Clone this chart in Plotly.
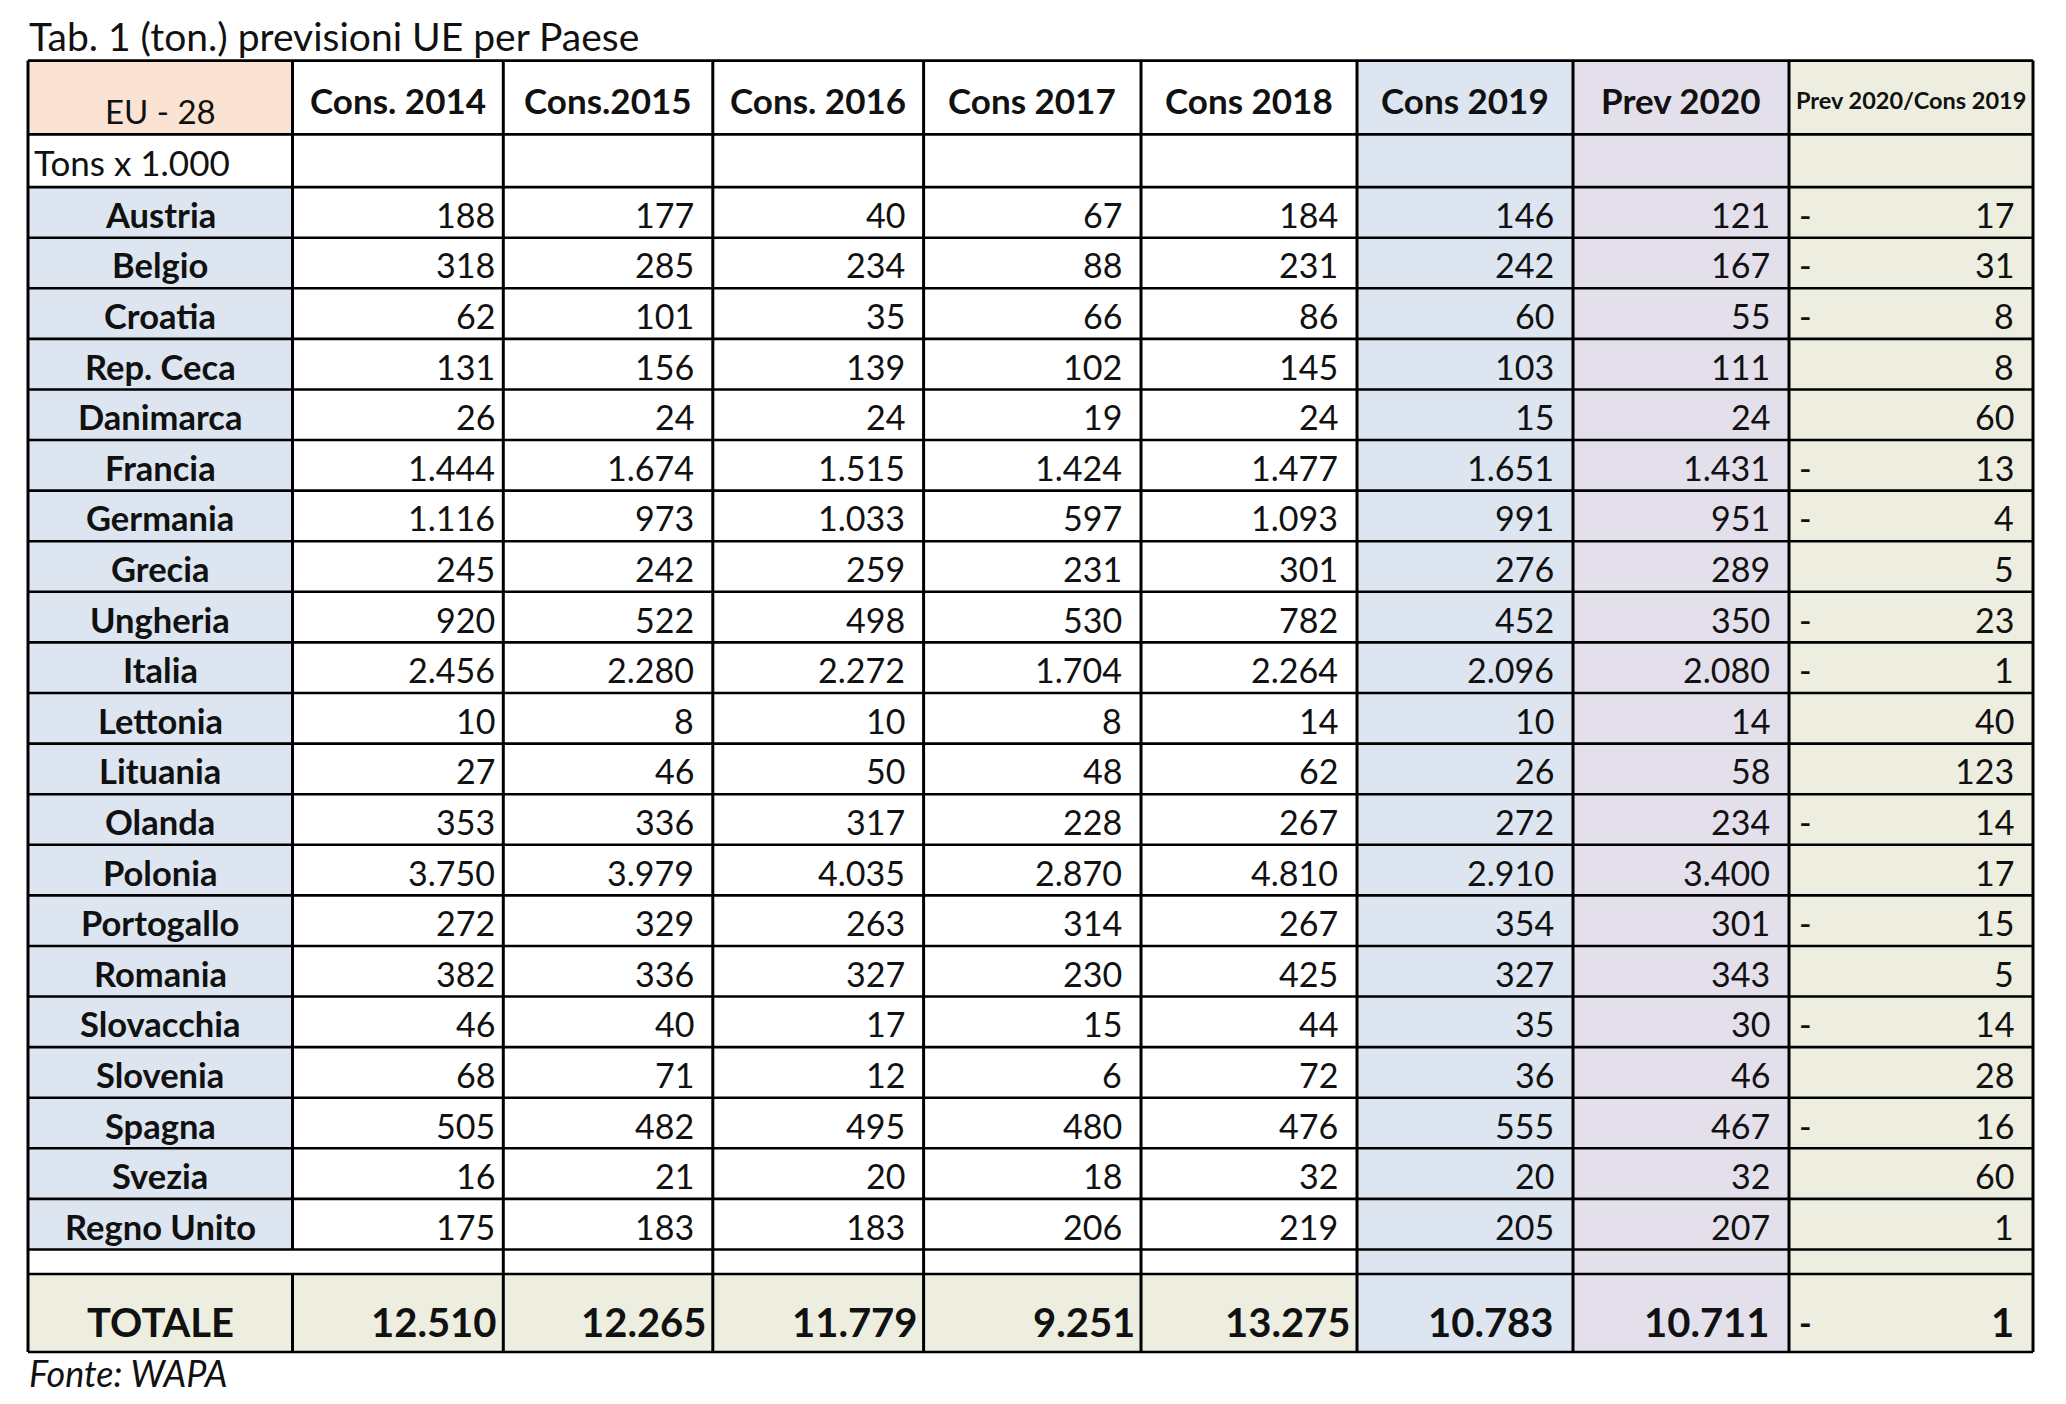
import plotly.graph_objects as go

# ---------------- data ----------------
title = "Tab. 1 (ton.) previsioni UE per Paese"
source = "Fonte: WAPA"
corner_label = "EU - 28"
unit_label = "Tons x 1.000"
headers = ["Cons. 2014", "Cons.2015", "Cons. 2016", "Cons 2017", "Cons 2018",
           "Cons 2019", "Prev 2020", "Prev 2020/Cons 2019"]
countries = ["Austria", "Belgio", "Croatia", "Rep. Ceca", "Danimarca", "Francia",
             "Germania", "Grecia", "Ungheria", "Italia", "Lettonia", "Lituania",
             "Olanda", "Polonia", "Portogallo", "Romania", "Slovacchia", "Slovenia",
             "Spagna", "Svezia", "Regno Unito"]
cons2014 = [188, 318, 62, 131, 26, 1444, 1116, 245, 920, 2456, 10, 27, 353, 3750, 272, 382, 46, 68, 505, 16, 175]
cons2015 = [177, 285, 101, 156, 24, 1674, 973, 242, 522, 2280, 8, 46, 336, 3979, 329, 336, 40, 71, 482, 21, 183]
cons2016 = [40, 234, 35, 139, 24, 1515, 1033, 259, 498, 2272, 10, 50, 317, 4035, 263, 327, 17, 12, 495, 20, 183]
cons2017 = [67, 88, 66, 102, 19, 1424, 597, 231, 530, 1704, 8, 48, 228, 2870, 314, 230, 15, 6, 480, 18, 206]
cons2018 = [184, 231, 86, 145, 24, 1477, 1093, 301, 782, 2264, 14, 62, 267, 4810, 267, 425, 44, 72, 476, 32, 219]
cons2019 = [146, 242, 60, 103, 15, 1651, 991, 276, 452, 2096, 10, 26, 272, 2910, 354, 327, 35, 36, 555, 20, 205]
prev2020 = [121, 167, 55, 111, 24, 1431, 951, 289, 350, 2080, 14, 58, 234, 3400, 301, 343, 30, 46, 467, 32, 207]
change_pct = [-17, -31, -8, 8, 60, -13, -4, 5, -23, -1, 40, 123, -14, 17, -15, 5, -14, 28, -16, 60, 1]
total_label = "TOTALE"
totals = [12510, 12265, 11779, 9251, 13275, 10783, 10711]
total_change = -1

# ---------------- layout constants ----------------
W, H = 2066, 1404
OFF = 8            # page body margin
col_edges = [28, 292.5, 503.3, 712.8, 923.6, 1141, 1357, 1573, 1789, 2033]
y_top, y_head, y_units = 60.6, 134.4, 187.1
y_data_end, y_empty_end, y_total_end = 1249.5, 1274, 1352
row_h = (y_data_end - y_units) / len(countries)

PEACH = "#FBE3D4"
BLUE = "#DCE5F0"
LAV = "#E3E0EC"
OLIVE = "#EDEEDF"
WHITE = "#FFFFFF"
FONT = "Lato, 'Open Sans', sans-serif"
TXT = "#111111"

col_fill = [BLUE, WHITE, WHITE, WHITE, WHITE, WHITE, BLUE, LAV, OLIVE]
right_pad = [0, 6, 17, 17, 17, 17, 17, 17, 17]

fmt = lambda v: f"{abs(v):,}".replace(",", ".")

shapes = []
ann = []

def rect(x0, x1, y0, y1, color):
    shapes.append(dict(type="rect", xref="x", yref="y", x0=x0, x1=x1, y0=y0, y1=y1,
                       fillcolor=color, line=dict(width=0), layer="below"))

def line(x0, y0, x1, y1, w=3):
    shapes.append(dict(type="line", xref="x", yref="y", x0=x0, y0=y0, x1=x1, y1=y1,
                       line=dict(color="#000000", width=w)))

def text(x, y, s, size, anchor="right", bold=False, italic=False, color=TXT):
    if bold:
        s = f"<b>{s}</b>"
    if italic:
        s = f"<i>{s}</i>"
    ann.append(dict(x=x, y=y, xref="x", yref="y", text=s, showarrow=False,
                    xanchor=anchor, yanchor="middle",
                    font=dict(family=FONT, size=size, color=color)))

# fills per block
header_fill = [PEACH, WHITE, WHITE, WHITE, WHITE, WHITE, BLUE, LAV, OLIVE]
units_fill = [WHITE, WHITE, WHITE, WHITE, WHITE, WHITE, BLUE, LAV, OLIVE]
empty_fill = [WHITE, WHITE, WHITE, WHITE, WHITE, WHITE, BLUE, LAV, OLIVE]
total_fill = [OLIVE, OLIVE, OLIVE, OLIVE, OLIVE, OLIVE, BLUE, LAV, OLIVE]
blocks = [(y_top, y_head, header_fill), (y_head, y_units, units_fill),
          (y_units, y_data_end, col_fill), (y_data_end, y_empty_end, empty_fill),
          (y_empty_end, y_total_end, total_fill)]
for y0, y1, fills in blocks:
    for i in range(9):
        rect(col_edges[i], col_edges[i + 1], y0, y1, fills[i])

# horizontal lines
hl = [y_top, y_head, y_units] + [y_units + row_h * k for k in range(1, len(countries))] + \
     [y_data_end, y_empty_end, y_total_end]
for y in hl:
    line(col_edges[0], y, col_edges[-1], y, 2.6)
# vertical lines
for i, x in enumerate(col_edges):
    if i == 1:
        line(x, y_top, x, y_data_end, 3)
        line(x, y_empty_end, x, y_total_end, 3)
    else:
        line(x, y_top, x, y_total_end, 3)

# title and source
text(col_edges[0] - 1, 36, title, 39, anchor="left")
text(col_edges[0] - 1, 1373, source, 36, anchor="left", italic=True)

# headers
cx = [(col_edges[i] + col_edges[i + 1]) / 2 for i in range(9)]
text(cx[0], 111, corner_label, 33, anchor="center")
for j, h in enumerate(headers):
    size = 23.5 if j == 7 else 35
    text(cx[j + 1], 100, h, size, anchor="center", bold=True)
text(col_edges[0] + 4, 162, unit_label, 35, anchor="left")

# data rows
series = [cons2014, cons2015, cons2016, cons2017, cons2018, cons2019, prev2020]
for r, name in enumerate(countries):
    yc = y_units + row_h * (r + 0.5) + 2
    text(cx[0], yc, name, 34.5, anchor="center", bold=True)
    for c, s in enumerate(series):
        text(col_edges[c + 2] - right_pad[c + 1], yc, fmt(s[r]), 34)
    v = change_pct[r]
    if v < 0:
        text(col_edges[8] + 8, yc, "-", 34, anchor="left")
    text(col_edges[9] - 17, yc, fmt(v), 34)

# totals
yt = (y_empty_end + y_total_end) / 2 + 9
text(cx[0], yt, total_label, 40, anchor="center", bold=True)
tot_pad = [4, 4, 4, 4, 4, 17, 17]
for c, v in enumerate(totals):
    text(col_edges[c + 2] - tot_pad[c], yt, fmt(v), 40, bold=True)
if total_change < 0:
    text(col_edges[8] + 8, yt, "<b>-</b>", 34, anchor="left")
text(col_edges[9] - 17, yt, fmt(total_change), 40, bold=True)

fig = go.Figure()
fig.add_trace(go.Scatter(x=[OFF, W - OFF], y=[OFF, H - OFF], mode="markers",
                         marker=dict(opacity=0), hoverinfo="skip", showlegend=False))
fig.update_layout(
    width=W - 2 * OFF, height=H - 2 * OFF, margin=dict(l=0, r=0, t=0, b=0),
    paper_bgcolor="white", plot_bgcolor="white",
    xaxis=dict(range=[OFF, W - OFF], visible=False, fixedrange=True),
    yaxis=dict(range=[H - OFF, OFF], visible=False, fixedrange=True),
    shapes=shapes, annotations=ann, showlegend=False,
)
fig.write_html("out.html", config=dict(displayModeBar=False))
